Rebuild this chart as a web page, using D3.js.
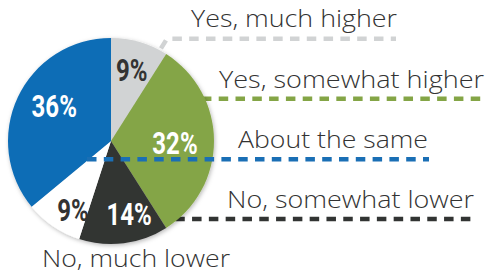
<!DOCTYPE html>
<html>
<head>
<meta charset="utf-8">
<script src="https://cdn.jsdelivr.net/npm/d3@7"></script>
<style>
  html, body { margin: 0; padding: 0; background: #fff; }
  svg { display: block; }
</style>
</head>
<body>
<svg id="chart" width="486" height="275"></svg>
<script>
// ---- data ----
const categories = ["Yes, much higher", "Yes, somewhat higher", "No, somewhat lower", "No, much lower", "About the same"];
const values = [9, 32, 14, 9, 36];
const percentLabels = ["9%", "32%", "14%", "9%", "36%"];

// ---- styling ----
const sliceColors = ["#d1d3d4", "#84a546", "#323433", "#ffffff", "#0f6db6"];
const pctColors = ["#333333", "#ffffff", "#ffffff", "#333333", "#ffffff"];
const lineColors = ["#d1d3d4", "#84a546", "#323433", null, "#1a6fb5"];
const pctRadius = [74, 64, 75, 78, 67];
const pctAngleShift = [0, 1, -6.8, -5, 6.9]; // degrees
const catWidths = [206, 265, 247, 188, 190];

const svg = d3.select("#chart");
const cx = 111, cy = 141, R = 103;

const defs = svg.append("defs");
const f = defs.append("filter").attr("id", "shadow").attr("x", "-20%").attr("y", "-20%").attr("width", "140%").attr("height", "140%");
f.append("feDropShadow").attr("dx", 1).attr("dy", 1.5).attr("stdDeviation", 2.2)
  .attr("flood-color", "#000").attr("flood-opacity", 0.28);

const pie = d3.pie().sort(null).value(d => d)(values);
const arc = d3.arc().innerRadius(0).outerRadius(R);

// leader line layout (annotation geometry)
const leaderSpec = {
  0: { y: 38.7, x2: 396, textY: 27, bend: true },
  1: { y: 98.7, x2: 492, textY: 88 },
  2: { y: 219, x2: 476, textY: 208 },
  4: { y: 159.3, x2: 429, textY: 148, x1: 87 }
};
const labelX = { 0: 397, 1: 484, 2: 474, 4: 428 };

const g = svg.append("g");
function edgeX(y) { return cx + Math.sqrt(Math.max(0, R * R - (y - cy) * (y - cy))); }

const under = g.append("g");
const pieG = g.append("g").attr("transform", `translate(${cx},${cy})`).attr("filter", "url(#shadow)");
pieG.selectAll("path").data(pie).join("path")
  .attr("d", arc)
  .attr("fill", (d, i) => sliceColors[i]);

const over = g.append("g");

[0, 1, 2].forEach(i => {
  const s = leaderSpec[i];
  let pts;
  if (s.bend) {
    const a = pie[i].endAngle - 0.07;
    const ex = cx + R * Math.sin(a), ey = cy - R * Math.cos(a);
    pts = [[ex + 1, ey - 2], [ex + 7, s.y], [s.x2, s.y]];
  } else {
    pts = [[edgeX(s.y) - 3, s.y], [s.x2, s.y]];
  }
  under.append("path")
    .attr("d", d3.line()(pts))
    .attr("fill", "none")
    .attr("stroke", lineColors[i])
    .attr("stroke-width", 4.5)
    .attr("stroke-dasharray", "9.5,7.3");
});

{
  const s = leaderSpec[4];
  over.append("path")
    .attr("d", d3.line()([[s.x1, s.y], [s.x2, s.y]]))
    .attr("fill", "none")
    .attr("stroke", lineColors[4])
    .attr("stroke-width", 4.5)
    .attr("stroke-dasharray", "9.5,7.3");
}

// category labels
const textFont = "'Open Sans', 'Noto Sans', sans-serif";
const catSize = 24.5;
[0, 1, 2, 4].forEach(i => {
  over.append("text")
    .attr("x", labelX[i])
    .attr("y", leaderSpec[i].textY)
    .attr("text-anchor", "end")
    .attr("font-family", textFont)
    .attr("font-weight", 300)
    .attr("font-size", catSize)
    .attr("textLength", catWidths[i])
    .attr("lengthAdjust", "spacingAndGlyphs")
    .attr("fill", "#333")
    .text(categories[i]);
});
over.append("text")
  .attr("x", 136)
  .attr("y", 267)
  .attr("text-anchor", "middle")
  .attr("font-family", textFont)
  .attr("font-weight", 300)
  .attr("font-size", catSize)
  .attr("textLength", catWidths[3])
  .attr("lengthAdjust", "spacingAndGlyphs")
  .attr("fill", "#333")
  .text(categories[3]);

// percent labels (condensed bold)
const pctG = g.append("g").attr("transform", `translate(${cx},${cy})`);
pctG.selectAll("text").data(pie).join("text")
  .attr("transform", (d, i) => {
    const a = (d.startAngle + d.endAngle) / 2 + pctAngleShift[i] * Math.PI / 180;
    const r = pctRadius[i];
    return `translate(${r * Math.sin(a)},${-r * Math.cos(a)}) scale(0.75,1)`;
  })
  .attr("text-anchor", "middle")
  .attr("dy", "0.36em")
  .attr("font-family", "Roboto, 'Liberation Sans', sans-serif")
  .attr("font-weight", "bold")
  .attr("font-size", 32)
  .attr("fill", (d, i) => pctColors[i])
  .text((d, i) => percentLabels[i]);
</script>
</body>
</html>
